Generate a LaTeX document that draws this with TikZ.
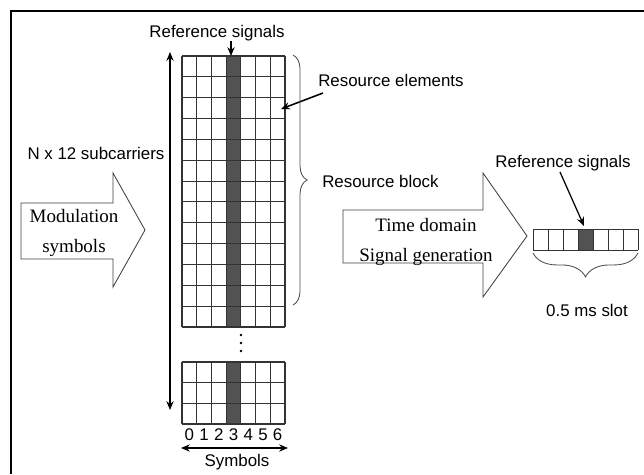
\documentclass[tikz,border=0pt]{standalone}
\usepackage{fontspec}
\setmainfont{Liberation Serif}
\setsansfont{Liberation Sans}
\usetikzlibrary{calc,arrows.meta,decorations.pathreplacing}

\begin{document}
\begin{tikzpicture}[
  x=0.025cm, y=-0.025cm,
  lbl/.style={font=\sffamily\fontsize{12}{14}\selectfont, inner sep=0pt},
  blktxt/.style={font=\rmfamily\fontsize{13.5}{21}\selectfont, align=center, inner sep=0pt},
  blkarr/.style={draw=black!75, line width=0.6pt, fill=white, line join=miter},
  cell/.style={draw=black!80, line width=0.8pt},
  rs/.style={fill=black!68},
  arr/.style={-{Stealth[length=2.2mm,width=1.8mm]}, line width=1.1pt},
  dbl/.style={{Stealth[length=2.2mm,width=1.8mm]}-{Stealth[length=2.2mm,width=1.8mm]}, line width=1.1pt},
  brc/.style={decorate, decoration={brace, amplitude=#1}, draw=black!70, line width=0.6pt},
]

\useasboundingbox (0,0) rectangle (644,474);
\draw[line width=1.4pt] (11,474) -- (11,11) -- (644,11);

%% --- Resource block grid (7 symbols x 13 rows) ---------------------
\fill[rs] (226.1,56) rectangle (240.8,327);
\foreach \i in {0,...,7}
  \draw[cell] ({182+\i*14.714},56) -- ({182+\i*14.714},327);
\foreach \j in {0,...,13}
  \draw[cell] (182,{56+\j*20.846}) -- (285,{56+\j*20.846});

%% --- Lower part of the grid ----------------------------------------
\fill[rs] (226.1,362) rectangle (240.8,424);
\foreach \i in {0,...,7}
  \draw[cell] ({182+\i*14.714},362) -- ({182+\i*14.714},424);
\foreach \j in {0,...,3}
  \draw[cell] (182,{362+\j*20.667}) -- (285,{362+\j*20.667});

\foreach \y in {335,343,351}
  \fill (241,\y) circle[radius=1.4];

%% --- Symbol numbers and axes ---------------------------------------
\foreach \k in {0,...,6}
  \node[lbl] (sym\k) at ({189.4+\k*14.714},435) {\k};
\node[lbl] (symLbl) at (237,462) {Symbols};

\coordinate (symL) at (181,448);
\coordinate (symR) at (288,448);
\draw[dbl] (symL) -- (symR);

\coordinate (axTop) at (170,52);
\coordinate (axBot) at (170,410);
\draw[dbl] (axTop) -- (axBot);
\node[lbl] (nsc) at (96,153) {N x 12 subcarriers};

%% --- Labels round the grid -----------------------------------------
\node[lbl] (rsLbl) at (217,33) {Reference signals};
\coordinate (rsTip) at (231,56);
\draw[arr] (rsLbl.south -| rsTip) -- (rsTip);

\node[lbl, anchor=west] (reLbl) at (318,80) {Resource elements};
\coordinate (reTail) at (323,93);
\coordinate (reTip) at (281,109);
\draw[arr] (reTail) -- (reTip);

\draw[brc=10pt] (293,55) -- (293,305);
\node[lbl, anchor=west] (rbLbl) at (322,181) {Resource block};

%% --- Block arrows --------------------------------------------------
\draw[blkarr] (21,203) -- (113,203) -- (113,173) -- (145,230)
  -- (113,287) -- (113,259) -- (21,259) -- cycle;
\node[blktxt] (modLbl) at (74,233) {Modulation\\symbols};

\draw[blkarr] (343,210) -- (483,210) -- (483,173) -- (527,236)
  -- (483,297) -- (483,263) -- (343,263) -- cycle;
\node[blktxt] (tdLbl) at (426,242) {Time domain\\Signal generation};

%% --- 0.5 ms slot ---------------------------------------------------
\fill[rs] (578,229) rectangle (593,250);
\foreach \i in {0,...,7}
  \draw[cell, line width=0.6pt] ({533+\i*15},229) -- ({533+\i*15},250);
\draw[cell, line width=0.6pt] (533,229) -- (638,229) (533,250) -- (638,250);

\node[lbl] (rs2Lbl) at (563,163) {Reference signals};
\coordinate (rs2Tail) at (560,172);
\coordinate (rs2Tip) at (584,226);
\draw[arr, line width=0.9pt] (rs2Tail) -- (rs2Tip);

\draw[brc=17pt] (638,253) -- (533,253);
\node[lbl] (slotLbl) at (587,310) {0.5 ms slot};

\end{tikzpicture}
\end{document}
